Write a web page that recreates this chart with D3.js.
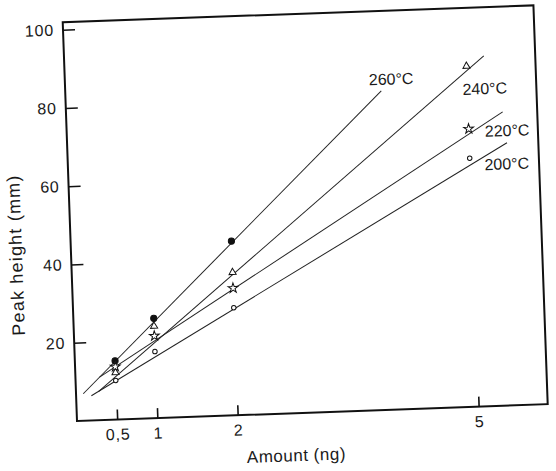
<!DOCTYPE html>
<html>
<head>
<meta charset="utf-8">
<script src="https://cdn.jsdelivr.net/npm/d3@7"></script>
<style>
  body { margin: 0; background: #fff; }
  text { font-family: "Liberation Sans", Arial, sans-serif; fill: #1a1a1a; }
</style>
</head>
<body>
<div id="chart"></div>
<script>
// amounts injected (ng) and the temperature series
var amounts = [0.5, 1, 2, 5];
var temps = ["260°C", "240°C", "220°C", "200°C"];

// peak heights (mm), null = no point
var peak260 = [15, 25.5, 44.5, null];
var peak240 = [12, 23.5, 36.5, 87];
var peak220 = [13.5, 21, 32.5, 71];
var peak200 = [10, 17, 27.5, 63.5];

// the straight lines as drawn: [amount, height] at each end
var line260 = [[0.09, 6.9], [3.93, 81.5]];
var line240 = [[0.28, 7.3], [5.22, 89.5]];
var line220 = [[0.3, 11], [5.43, 75]];
var line200 = [[0.19, 6.3], [5.47, 67.1]];

// where the temperature labels sit (amount, height)
var labelPos = [[3.78, 83], [4.94, 79.7], [5.2, 68.8], [5.18, 60.3]];

var xTicks = [0.5, 1, 2, 5];
var yTicks = [20, 40, 60, 80, 100];

var series = [
  {name: temps[0], peaks: peak260, line: line260, symbol: d3.symbolCircle, fill: "#111", size: 30},
  {name: temps[1], peaks: peak240, line: line240, symbol: d3.symbolTriangle, fill: "#fff", size: 22},
  {name: temps[2], peaks: peak220, line: line220, symbol: d3.symbolStar, fill: "#fff", size: 30},
  {name: temps[3], peaks: peak200, line: line200, symbol: d3.symbolCircle, fill: "#fff", size: 16}
];

var W = 556, H = 471;
// plot box (before the small tilt of the scan)
var box = {left: 77, right: 548, top: 22, bottom: 421};

var svg = d3.select("#chart").append("svg")
    .attr("width", W)
    .attr("height", H);

// whole figure is slightly tilted in the reference
var g = svg.append("g")
    .attr("transform", "rotate(-2.05," + box.left + "," + box.bottom + ")");

var x = d3.scaleLinear().domain([0, 5.86]).range([box.left, box.right]);
var y = d3.scaleLinear().domain([0, 101.9]).range([box.bottom, box.top]);

var fmt = function(d) { return String(d).replace(".", ","); };

// x axis, ticks pointing up into the plot
var xa = g.append("g")
    .attr("transform", "translate(0," + box.bottom + ")")
    .call(d3.axisBottom(x).tickValues(xTicks).tickSize(-10).tickPadding(9).tickFormat(fmt));
xa.select(".domain").remove();

// y axis, ticks pointing right
var ya = g.append("g")
    .attr("transform", "translate(" + box.left + ",0)")
    .call(d3.axisLeft(y).tickValues(yTicks).tickSize(-12).tickPadding(9));
ya.select(".domain").remove();

g.selectAll(".tick line").attr("stroke", "#111").attr("stroke-width", 1.6);
g.selectAll(".tick text")
    .style("font-family", "'Liberation Sans', Arial, sans-serif")
    .style("font-size", "16px")
    .style("letter-spacing", "0.8px")
    .attr("fill", "#1a1a1a");

// frame
g.append("rect")
    .attr("x", box.left).attr("y", box.top)
    .attr("width", box.right - box.left).attr("height", box.bottom - box.top)
    .attr("fill", "none")
    .attr("stroke", "#111")
    .attr("stroke-width", 2);

var line = d3.line()
    .x(function(d) { return x(d[0]); })
    .y(function(d) { return y(d[1]); });

series.forEach(function(s, i) {
  g.append("path")
    .datum(s.line)
    .attr("fill", "none")
    .attr("stroke", "#222")
    .attr("stroke-width", 1)
    .attr("d", line);

  var pts = amounts.map(function(a, j) { return [a, s.peaks[j]]; })
      .filter(function(p) { return p[1] != null; });

  g.selectAll(".pt" + i)
    .data(pts)
    .enter().append("path")
    .attr("transform", function(d) { return "translate(" + x(d[0]) + "," + y(d[1]) + ")"; })
    .attr("d", d3.symbol().type(s.symbol).size(s.size))
    .attr("fill", s.fill)
    .attr("stroke", "#111")
    .attr("stroke-width", 1);

  g.append("text")
    .attr("x", x(labelPos[i][0]))
    .attr("y", y(labelPos[i][1]))
    .style("font-size", "16px")
    .text(s.name);
});

// axis titles
g.append("text")
    .attr("transform", "translate(28,253) rotate(-90)")
    .attr("text-anchor", "middle")
    .style("font-size", "18px")
    .style("letter-spacing", "1.2px")
    .text("Peak height (mm)");

g.append("text")
    .attr("x", 295)
    .attr("y", 469)
    .attr("text-anchor", "middle")
    .style("font-size", "17px")
    .style("letter-spacing", "0.5px")
    .text("Amount (ng)");
</script>
</body>
</html>
